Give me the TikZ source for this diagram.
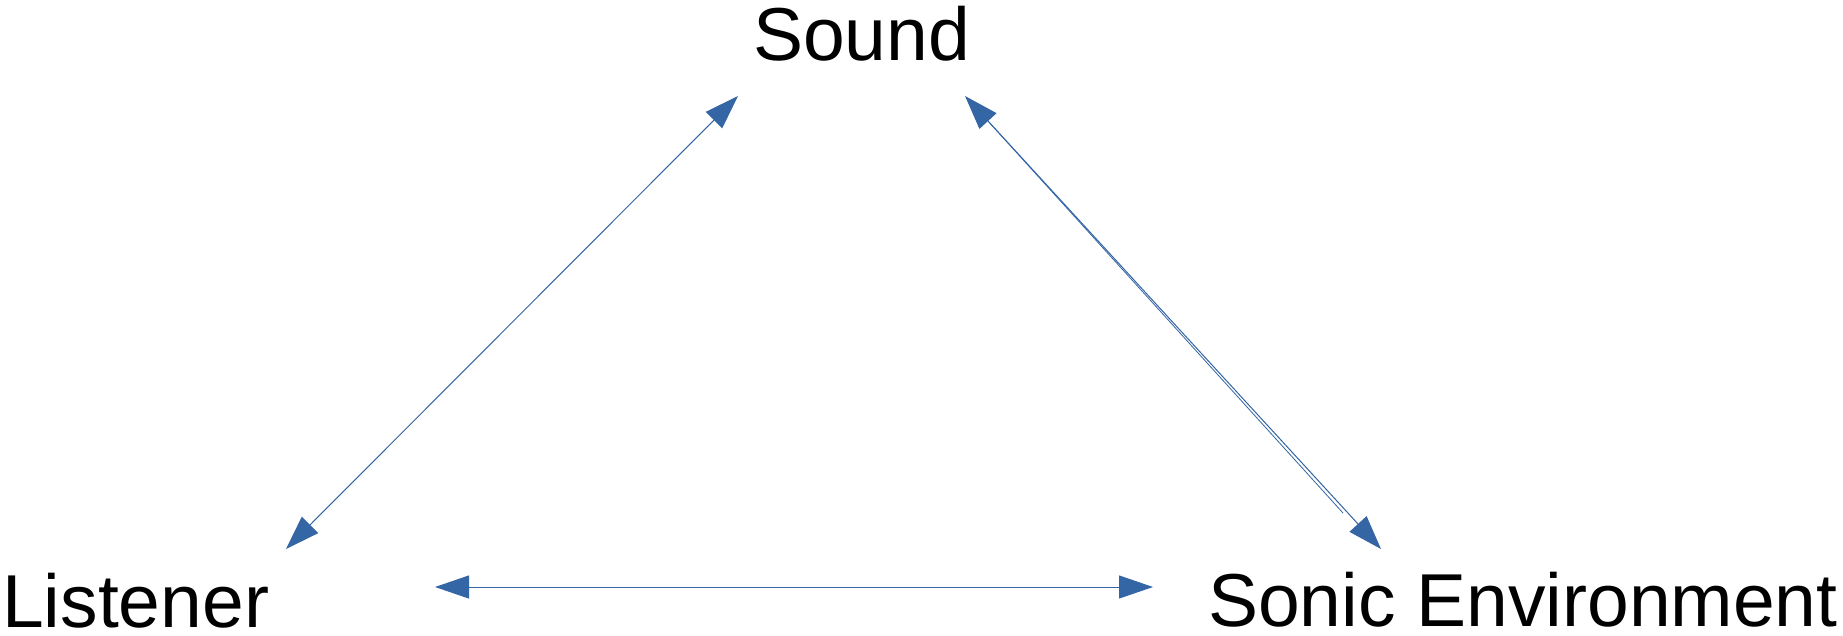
\documentclass[tikz,border=0pt]{standalone}
\usepackage{fontspec}
\setmainfont{Liberation Sans}
\usetikzlibrary{arrows.meta,calc}
\definecolor{linkblue}{RGB}{52,101,164}
\tikzset{
  label/.style={inner sep=0pt, anchor=base west, font=\fontsize{75}{80}\selectfont},
  conn/.style={draw=linkblue, line width=1pt, {Triangle[length=34pt,width=23pt,fill=linkblue]}-{Triangle[length=34pt,width=23pt,fill=linkblue]}},
  thinconn/.style={draw=linkblue, line width=0.8pt}
}
\begin{document}
\begin{tikzpicture}[x=1pt,y=-1pt]
\useasboundingbox[fill=white] (0,0) rectangle (1843,635);
\node[label] (sound) at (753,60) {Sound};
\node[label] (listener) at (2,627) {Listener};
\node[label] (sonic) at (1208,626) {Sonic Environment};
% arrow end points
\coordinate (lsA) at (286,549);
\coordinate (lsB) at (738,96);
\coordinate (ssA) at (965,96);
\coordinate (ssB) at (1381,549);
\coordinate (ssC) at (1343,513);
\coordinate (lhA) at (435,587);
\coordinate (lhB) at (1153,587);
\draw[conn] (lsA) -- (lsB);
\draw[conn] (ssA) -- (ssB);
\draw[thinconn] ($(ssA)!0.06!(ssB)$) -- (ssC);
\draw[conn] (lhA) -- (lhB);
\end{tikzpicture}
\end{document}
